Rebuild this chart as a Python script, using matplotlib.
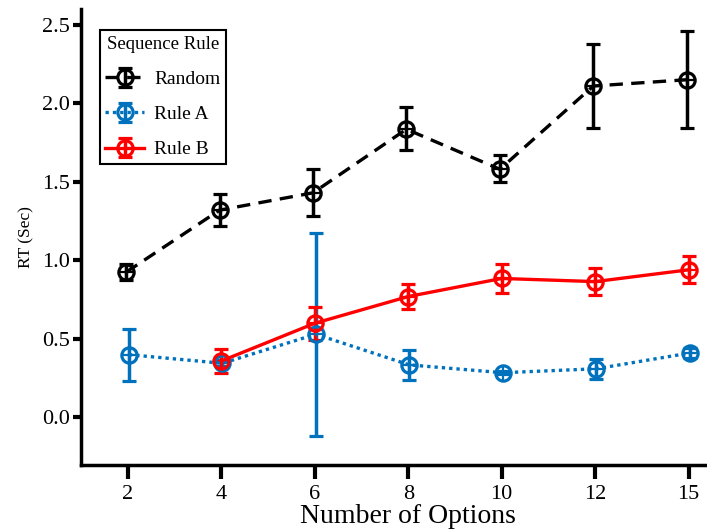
import matplotlib.pyplot as plt
import numpy as np

plt.rcParams['font.family'] = ['Liberation Serif', 'DejaVu Serif']

# Data
options = ['2', '4', '6', '8', '10', '12', '15']

random_rt = [0.925, 1.32, 1.43, 1.835, 1.58, 2.11, 2.15]
random_lo = [0.05, 0.10, 0.15, 0.13, 0.08, 0.27, 0.31]
random_hi = [0.05, 0.10, 0.15, 0.14, 0.09, 0.27, 0.31]

rule_a_rt = [0.40, 0.345, 0.53, 0.335, 0.285, 0.31, 0.41]
rule_a_err = [0.165, 0.02, 0.645, 0.095, 0.01, 0.065, 0.03]

rule_b_x = [1, 2, 3, 4, 5, 6]
rule_b_rt = [0.36, 0.60, 0.77, 0.885, 0.865, 0.94]
rule_b_err = [0.075, 0.105, 0.08, 0.09, 0.085, 0.085]

x = np.arange(len(options))

fig = plt.figure(figsize=(7.07, 5.31), dpi=100)
ax = fig.add_axes([0.115, 0.125, 0.925, 0.858])

def draw(xs, ys, err, color, ls, label):
    ax.errorbar(xs, ys, yerr=err, color=color, ls=ls, lw=2.4,
                marker='o', ms=11, mfc='none', mew=2.3,
                capsize=5, capthick=2.5, elinewidth=2.5, label=label)
    ax.plot(xs, ys, ls='none', marker='+', ms=11, mew=1.6, color=color)

draw(x - 0.02, random_rt, [random_lo, random_hi], 'black', (0, (4, 2.5)), 'Random')
draw(x + 0.01, rule_a_rt, rule_a_err, '#0072BD', (0, (1, 1.2)), 'Rule A')
draw(rule_b_x, rule_b_rt, rule_b_err, 'red', '-', 'Rule B')

ax.set_xlim(-0.5, 6.5)
ax.set_ylim(-0.3, 2.6)
ax.set_xticks(x)
ax.set_xticklabels(options)
ax.set_yticks([0.0, 0.5, 1.0, 1.5, 2.0, 2.5])
ax.tick_params(axis='x', labelsize=16, width=3, length=10, direction='out', pad=5)
ax.tick_params(axis='y', labelsize=16, width=3, length=6, direction='out', pad=2)
ax.spines['top'].set_visible(False)
ax.spines['right'].set_visible(False)
ax.spines['left'].set_linewidth(2.5)
ax.spines['bottom'].set_linewidth(2.5)

ax.set_xlabel('Number of Options', fontsize=20, labelpad=0)
ax.set_ylabel('RT (Sec)', fontsize=12.5, labelpad=6)

leg = ax.legend(title='Sequence Rule', loc='upper left', bbox_to_anchor=(0.022, 0.962),
                fontsize=14, title_fontsize=13.5, fancybox=False, framealpha=1,
                edgecolor='black', handlelength=2.0, handletextpad=0.5,
                labelspacing=0.9, borderpad=0.3, borderaxespad=0.2)
leg.get_frame().set_linewidth(1.5)

fig.savefig('out.png', dpi=100)
